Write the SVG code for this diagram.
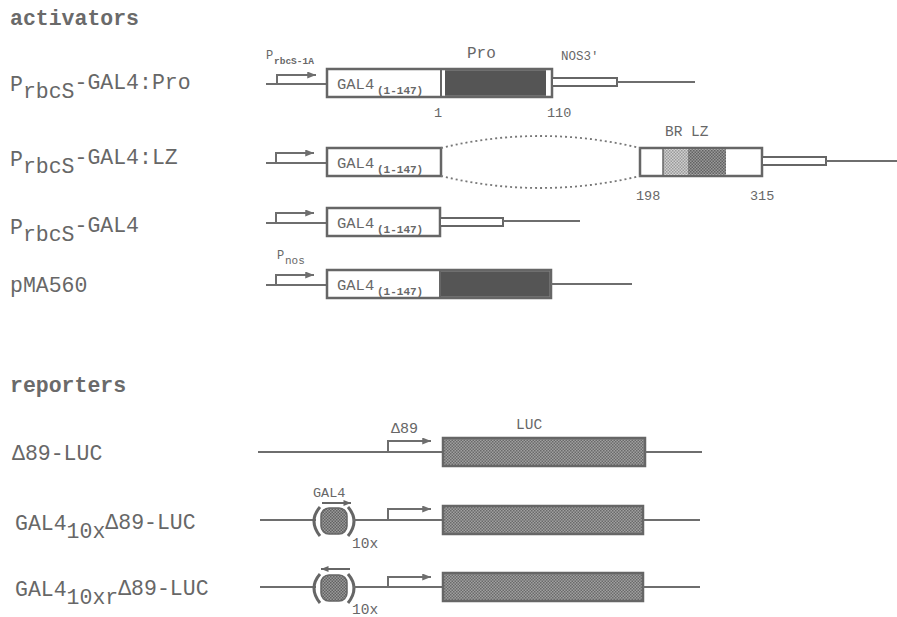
<svg xmlns="http://www.w3.org/2000/svg" width="897" height="617" viewBox="0 0 897 617">
<style>
text{font-family:"Courier New","Nimbus Mono PS","FreeMono","Liberation Mono",monospace;fill:#676767}
.lab{font-size:21.5px}
.hdr{font-size:21.5px;font-weight:bold;fill:#6a6a6a}
.bb{stroke:#6e6e6e;stroke-width:2;fill:none}
.box{stroke:#666;stroke-width:2.5;fill:#fff}
.thin{stroke:#666;stroke-width:2;fill:#fff}
.prom{stroke:#6e6e6e;stroke-width:2;fill:none;marker-end:url(#ah)}
.g4{font-size:15.5px}
.sub{font-size:11px;font-weight:bold}
.num{font-size:13.5px}
.dark{fill:#555}
.dot{stroke:#777;stroke-width:1.8;fill:none;stroke-dasharray:2 3}
.paren{stroke:#666;stroke-width:3;fill:none}
.site{fill:url(#st2);stroke:#666;stroke-width:1.5}
</style>
<defs>
<marker id="ah" viewBox="0 0 10 8" refX="10" refY="4" markerWidth="10" markerHeight="7" markerUnits="userSpaceOnUse" orient="auto">
<path d="M0 0 L10 4 L0 8 z" fill="#6e6e6e"/>
</marker>
<marker id="ah2" viewBox="0 0 10 8" refX="10" refY="4" markerWidth="9" markerHeight="6" markerUnits="userSpaceOnUse" orient="auto">
<path d="M0 0 L10 4 L0 8 z" fill="#666"/>
</marker>
<pattern id="hatch" width="3" height="3" patternUnits="userSpaceOnUse">
<rect width="3" height="3" fill="#a0a0a0"/>
<rect width="1.5" height="1.5" fill="#6a6a6a"/>
<rect x="1.5" y="1.5" width="1.5" height="1.5" fill="#6a6a6a"/>
</pattern>
<pattern id="st1" width="3" height="3" patternUnits="userSpaceOnUse">
<rect width="3" height="3" fill="#d0d0d0"/>
<rect width="1.5" height="1.5" fill="#9a9a9a"/>
<rect x="1.5" y="1.5" width="1.5" height="1.5" fill="#9a9a9a"/>
</pattern>
<pattern id="st2" width="3" height="3" patternUnits="userSpaceOnUse">
<rect width="3" height="3" fill="#9a9a9a"/>
<rect width="1.5" height="1.5" fill="#626262"/>
<rect x="1.5" y="1.5" width="1.5" height="1.5" fill="#626262"/>
</pattern>
</defs>

<text class="hdr" x="10" y="25">activators</text>
<text class="hdr" x="10" y="392">reporters</text>

<g id="row-pro">
<text class="lab" x="10" y="91">P<tspan y="98">rbcS</tspan><tspan y="89">-GAL4:Pro</tspan></text>
<line class="bb" x1="266" y1="84" x2="327" y2="84"/>
<path class="prom" d="M277 84 V75 H316"/>
<text x="266" y="59" style="font-size:12px">P<tspan x="274" y="64" style="font-size:9.5px;font-weight:bold">rbcS-1A</tspan></text>
<rect class="box" x="327" y="69" width="225" height="28"/>
<rect class="dark" x="445" y="70.2" width="101" height="25.6"/>
<line x1="441" y1="69" x2="441" y2="97" stroke="#666" stroke-width="2"/>
<text class="g4" x="337" y="89">GAL4<tspan class="sub" x="377" y="94">(1-147)</tspan></text>
<rect class="thin" x="552" y="78" width="65" height="8"/>
<line class="bb" x1="617" y1="82" x2="695" y2="82"/>
<text x="467" y="58" style="font-size:16px">Pro</text>
<text x="561" y="60" style="font-size:12.5px">NOS3'</text>
<text class="num" x="434" y="117">1</text>
<text class="num" x="547" y="117">110</text>
</g>

<g id="row-lz">
<text class="lab" x="10" y="166">P<tspan y="173">rbcS</tspan><tspan y="164">-GAL4:LZ</tspan></text>
<line class="bb" x1="266" y1="163" x2="327" y2="163"/>
<path class="prom" d="M276 163 V153 H314"/>
<rect class="box" x="327" y="148" width="114" height="28"/>
<text class="g4" x="337" y="168">GAL4<tspan class="sub" x="377" y="173">(1-147)</tspan></text>
<rect class="box" x="640" y="148" width="122" height="28"/>
<rect x="663" y="149.2" width="25" height="25.6" fill="url(#st1)"/>
<rect x="688" y="149.2" width="38" height="25.6" fill="url(#st2)"/>
<line x1="663" y1="148" x2="663" y2="176" stroke="#666" stroke-width="1.5"/>
<rect class="thin" x="762" y="157" width="64" height="8"/>
<line class="bb" x1="826" y1="161" x2="897" y2="161"/>
<text x="665" y="136" style="font-size:14.5px">BR LZ</text>
<text class="num" x="636" y="200">198</text>
<text class="num" x="750" y="200">315</text>
</g>

<g id="row-gal4">
<text class="lab" x="10" y="234">P<tspan y="241">rbcS</tspan><tspan y="232">-GAL4</tspan></text>
<line class="bb" x1="266" y1="223" x2="327" y2="223"/>
<path class="prom" d="M276 223 V213 H314"/>
<rect class="box" x="327" y="208" width="113" height="28"/>
<text class="g4" x="337" y="228">GAL4<tspan class="sub" x="377" y="233">(1-147)</tspan></text>
<rect class="thin" x="440" y="218" width="63" height="8"/>
<line class="bb" x1="503" y1="221" x2="580" y2="221"/>
</g>

<g id="row-pma560">
<text class="lab" x="10" y="292">pMA560</text>
<line class="bb" x1="266" y1="285" x2="327" y2="285"/>
<path class="prom" d="M276 285 V275 H314"/>
<text x="277" y="259" style="font-size:12px">P<tspan x="285" y="264" style="font-size:11px">nos</tspan></text>
<rect class="box" x="327" y="270" width="224" height="28"/>
<rect class="dark" x="441" y="271.2" width="108.8" height="25.6"/>
<line x1="440" y1="270" x2="440" y2="298" stroke="#666" stroke-width="2"/>
<text class="g4" x="337" y="290">GAL4<tspan class="sub" x="377" y="295">(1-147)</tspan></text>
<line class="bb" x1="551" y1="284" x2="632" y2="284"/>
</g>

<g id="connectors">
<path class="dot" d="M441 148 Q540 124 640 148"/>
<path class="dot" d="M441 176 Q540 200 640 176"/>
</g>

<g id="rep-d89">
<text class="lab" x="12" y="460">Δ89-LUC</text>
<line class="bb" x1="258" y1="452" x2="443" y2="452"/>
<path class="prom" d="M388 452 V441 H431"/>
<text x="391" y="433" style="font-size:15px">Δ89</text>
<rect x="443" y="438" width="202" height="28" fill="url(#hatch)" stroke="#666" stroke-width="2.5"/>
<line class="bb" x1="645" y1="452" x2="702" y2="452"/>
<text x="516" y="429" style="font-size:14.5px">LUC</text>
</g>

<g id="rep-10x">
<text class="lab" x="15" y="530">GAL4<tspan y="538">10x</tspan><tspan y="529">Δ89-LUC</tspan></text>
<line class="bb" x1="260" y1="520" x2="316" y2="520"/>
<rect class="site" x="321" y="508" width="26" height="26" rx="8"/>
<path class="paren" d="M320 507 Q308 521 320 536"/>
<path class="paren" d="M348 507 Q360 521 348 536"/>
<line x1="322" y1="503" x2="351" y2="503" stroke="#666" stroke-width="2" marker-end="url(#ah2)"/>
<text x="313" y="497" style="font-size:13.5px">GAL4</text>
<text x="352" y="548" style="font-size:14.5px">10x</text>
<line class="bb" x1="353" y1="520" x2="443" y2="520"/>
<path class="prom" d="M388 520 V509 H431"/>
<rect x="443" y="506" width="200" height="28" fill="url(#hatch)" stroke="#666" stroke-width="2.5"/>
<line class="bb" x1="643" y1="520" x2="700" y2="520"/>
</g>

<g id="rep-10xr">
<text class="lab" x="15" y="596">GAL4<tspan y="604">10xr</tspan><tspan y="595">Δ89-LUC</tspan></text>
<line class="bb" x1="260" y1="587" x2="316" y2="587"/>
<rect class="site" x="321" y="575" width="26" height="26" rx="8"/>
<path class="paren" d="M320 574 Q308 588 320 603"/>
<path class="paren" d="M348 574 Q360 588 348 603"/>
<line x1="350" y1="569" x2="321" y2="569" stroke="#666" stroke-width="2" marker-end="url(#ah2)"/>
<text x="352" y="614" style="font-size:14.5px">10x</text>
<line class="bb" x1="353" y1="587" x2="443" y2="587"/>
<path class="prom" d="M388 587 V577 H431"/>
<rect x="443" y="573" width="200" height="28" fill="url(#hatch)" stroke="#666" stroke-width="2.5"/>
<line class="bb" x1="643" y1="587" x2="700" y2="587"/>
</g>
</svg>
